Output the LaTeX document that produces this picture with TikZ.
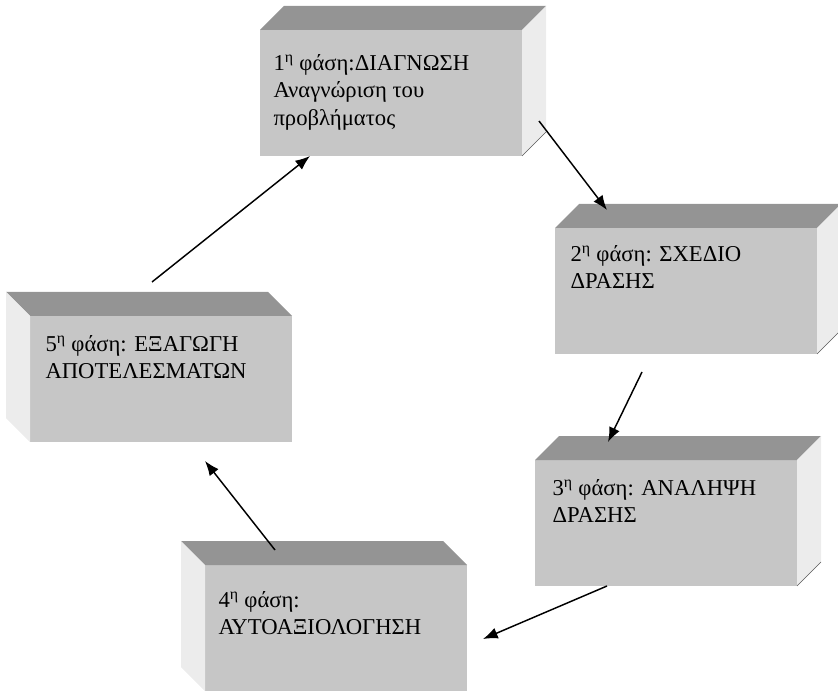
\documentclass[tikz,border=0pt]{standalone}
\usepackage{fontspec}
\setmainfont{Liberation Serif}
\usetikzlibrary{arrows.meta}

\definecolor{frontgray}{RGB}{198,198,198}
\definecolor{topgray}{RGB}{148,148,148}
\definecolor{sidegray}{RGB}{236,236,236}

\tikzset{every picture/.style={line width=0.75pt}}
\tikzset{
  face/.style={fill=frontgray, draw=none, inner sep=0pt, outer sep=0pt,
    minimum width=196.5pt, minimum height=94.5pt, anchor=north west},
  phasetext/.style={inner sep=0pt, anchor=north west, align=left,
    font={\fontsize{17pt}{20.5pt}\selectfont}},
  flow/.style={line width=1.1pt, -{Latex[length=11pt,width=8.5pt]}}
}

\begin{document}
\begin{tikzpicture}[x=0.75pt,y=0.75pt,yscale=-1,xscale=1]
	\useasboundingbox (0,0) rectangle (838,691);

	%Front faces of the five boxes
	\node[face] (b1) at (260,30) {};
	\node[face] (b2) at (555,228) {};
	\node[face] (b3) at (535,460) {};
	\node[face] (b4) at (205,565) {};
	\node[face] (b5) at (30,316) {};

	%Depth going to the right
	\foreach \b in {b1,b2,b3} {
		\fill[topgray] (\b.north west) -- ++(24,-24) -- ([shift={(24,-24)}]\b.north east) -- (\b.north east) -- cycle;
		\fill[sidegray] (\b.north east) -- ++(24,-24) -- ([shift={(24,-24)}]\b.south east) -- (\b.south east) -- cycle;
		\draw[black!65, line width=0.5pt] (\b.south east) -- ++(24,-24);
	}
	%Depth going to the left
	\foreach \b in {b4,b5} {
		\fill[topgray] (\b.north west) -- ++(-24,-24) -- ([shift={(-24,-24)}]\b.north east) -- (\b.north east) -- cycle;
		\fill[sidegray] (\b.north west) -- ++(-24,-24) -- ([shift={(-24,-24)}]\b.south west) -- (\b.south west) -- cycle;
	}

	% Text Nodes
	\node[phasetext] (t1) at ([shift={(13,24)}]b1.north west) {1\textsuperscript{η} φάση:ΔΙΑΓΝΩΣΗ\\Αναγνώριση του\\προβλήματος};
	\node[phasetext] (t2) at ([shift={(15,17)}]b2.north west) {2\textsuperscript{η} φάση: ΣΧΕΔΙΟ\\ΔΡΑΣΗΣ};
	\node[phasetext] (t3) at ([shift={(17,19)}]b3.north west) {3\textsuperscript{η} φάση: ΑΝΑΛΗΨΗ\\ΔΡΑΣΗΣ};
	\node[phasetext] (t4) at ([shift={(13,26)}]b4.north west) {4\textsuperscript{η} φάση:\\ΑΥΤΟΑΞΙΟΛΟΓΗΣΗ};
	\node[phasetext] (t5) at ([shift={(15,19)}]b5.north west) {5\textsuperscript{η} φάση: ΕΞΑΓΩΓΗ\\ΑΠΟΤΕΛΕΣΜΑΤΩΝ};

	%Arrows of the cycle
	\draw[flow] ([shift={(122,-34)}]b5.north west) -- ([shift={(50,0)}]b1.south west);
	\draw[flow] ([shift={(17,-35)}]b1.south east) -- ([shift={(52,-18)}]b2.north west);
	\draw[flow] ([shift={(87,18)}]b2.south west) -- ([shift={(73,-18)}]b3.north west);
	\draw[flow] ([shift={(72,0)}]b3.south west) -- ([shift={(16,74)}]b4.north east);
	\draw[flow] ([shift={(70,-15)}]b4.north west) -- ([shift={(175,19)}]b5.south west);

\end{tikzpicture}
\end{document}
